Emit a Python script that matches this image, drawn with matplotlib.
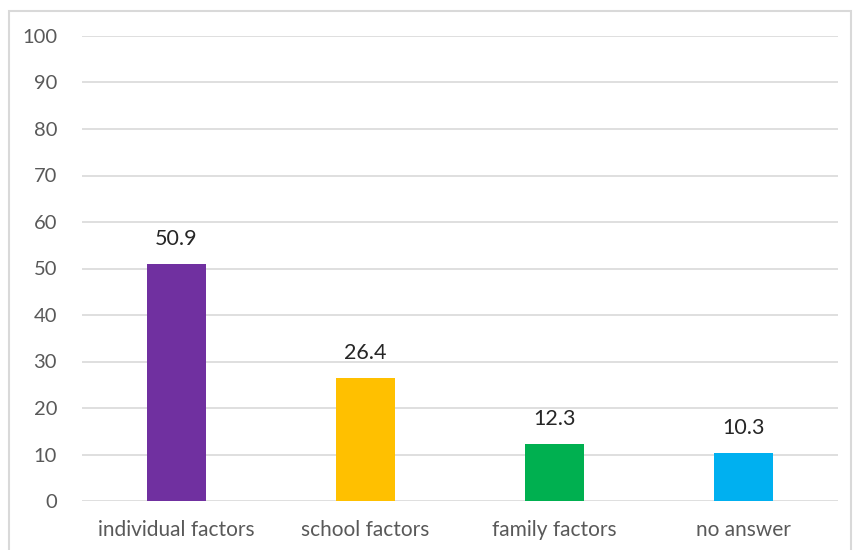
import matplotlib.pyplot as plt
from matplotlib.patches import Rectangle

categories = ['individual factors', 'school factors', 'family factors', 'no answer']
values = [50.9, 26.4, 12.3, 10.3]
colors = ['#7030A0', '#FFC000', '#00B050', '#00B0F0']
yticks = list(range(0, 101, 10))

plt.rcParams['font.family'] = ['Lato', 'DejaVu Sans']

fig = plt.figure(figsize=(8.55, 5.5), dpi=100)
ax = fig.add_axes([82 / 855, 1 - 501 / 550, 756 / 855, 465 / 550])

# chart frame
fig.patches.append(Rectangle((9 / 855, -0.05), 842 / 855, 1.05 - 11 / 550,
                             transform=fig.transFigure, fill=False,
                             edgecolor='#D9D9D9', linewidth=1.5))

x = range(len(categories))
bars = ax.bar(x, values, width=0.31, color=colors, zorder=3)
for b, v in zip(bars, values):
    ax.text(b.get_x() + b.get_width() / 2, v + 3.2, f'{v}',
            ha='center', va='bottom', fontsize=15.5, color='#262626')

ax.set_xlim(-0.5, len(categories) - 0.5)
ax.set_ylim(0, 100)
ax.set_yticks(yticks)
ax.set_xticks(list(x))
ax.set_xticklabels(categories, fontsize=15)
ax.grid(axis='y', color='#D9D9D9', linewidth=1.2, zorder=0)
for s in ax.spines.values():
    s.set_visible(False)
ax.tick_params(length=0, labelsize=14.5, labelcolor='#595959')
ax.tick_params(axis='y', pad=18)
ax.tick_params(axis='x', pad=14, labelsize=15)

fig.savefig('out.png', dpi=100)
